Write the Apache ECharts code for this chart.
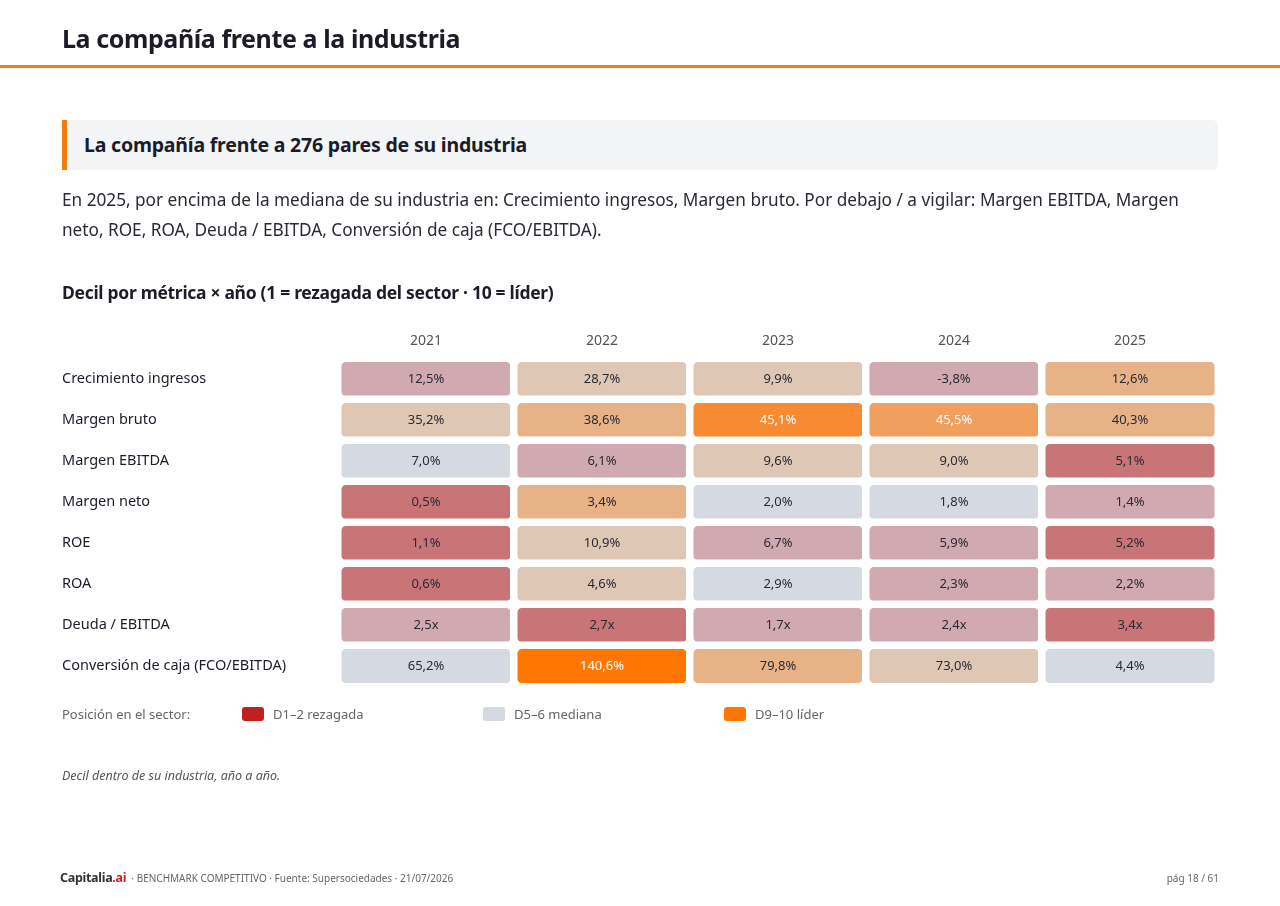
<!DOCTYPE html>
<html>
<head>
<meta charset="utf-8">
<script src="https://cdn.jsdelivr.net/npm/echarts@6/dist/echarts.min.js"></script>
<style>
  body { margin: 0; width: 1280px; height: 906px; background: #fff; font-family: "Noto Sans", sans-serif; color: #1c1c28; position: relative; overflow: hidden; }
  .abs { position: absolute; }
  #chart { position: absolute; left: 0; top: 0; width: 1280px; height: 906px; }
  .sw { display: inline-block; width: 22px; height: 14px; border-radius: 3px; vertical-align: -2px; margin-right: 9px; }
</style>
</head>
<body>
<div id="chart"></div>
<div class="abs" style="left:62px;top:21px;font-size:25px;font-weight:700;letter-spacing:-0.4px;">La compañía frente a la industria</div>
<div class="abs" style="left:0;top:65px;width:1280px;height:3px;background:#f07d12;"></div>
<div class="abs" style="left:62px;top:120px;width:1156px;height:50px;background:#f3f4f6;border-radius:0 6px 6px 0;"></div>
<div class="abs" style="left:62px;top:120px;width:5px;height:50px;background:#f07d12;"></div>
<div class="abs" style="left:84px;top:131px;font-size:19.5px;font-weight:700;letter-spacing:-0.2px;">La compañía frente a 276 pares de su industria</div>
<div class="abs" style="left:62px;top:185px;width:1160px;font-size:17.2px;line-height:30px;color:#2a2a35;">En 2025, por encima de la mediana de su industria en: Crecimiento ingresos, Margen bruto. Por debajo / a vigilar: Margen EBITDA, Margen neto, ROE, ROA, Deuda / EBITDA, Conversión de caja (FCO/EBITDA).</div>
<div class="abs" style="left:62px;top:280px;font-size:17.5px;font-weight:700;letter-spacing:-0.3px;">Decil por métrica × año (1 = rezagada del sector · 10 = líder)</div>
<div class="abs" style="left:62px;top:705px;font-size:13px;color:#666;">Posición en el sector:</div>
<div class="abs" style="left:242px;top:705px;font-size:13px;color:#666;"><span class="sw" style="background:#c21f1f"></span>D1–2 rezagada</div>
<div class="abs" style="left:483px;top:705px;font-size:13px;color:#666;"><span class="sw" style="background:#d5d9e2"></span>D5–6 mediana</div>
<div class="abs" style="left:724px;top:705px;font-size:13px;color:#666;"><span class="sw" style="background:#ff7700"></span>D9–10 líder</div>
<div class="abs" style="left:62px;top:767px;font-size:12.5px;font-style:italic;color:#555;">Decil dentro de su industria, año a año.</div>
<div class="abs" style="left:60px;top:869px;font-size:10px;color:#666;"><span style="font-size:12.5px;font-weight:700;color:#333;letter-spacing:-0.3px;">Capitalia<span style="color:#d0202a">.ai</span></span> &nbsp;· BENCHMARK COMPETITIVO · Fuente: Supersociedades · 21/07/2026</div>
<div class="abs" style="right:61px;top:871px;font-size:10px;color:#666;">pág 18 / 61</div>
<script>
const years = ['2021', '2022', '2023', '2024', '2025'];
const metrics = ['Crecimiento ingresos', 'Margen bruto', 'Margen EBITDA', 'Margen neto', 'ROE', 'ROA', 'Deuda / EBITDA', 'Conversión de caja (FCO/EBITDA)'];
// displayed values per metric (rows) × year (cols)
const labels = [
  ['12,5%', '28,7%', '9,9%', '-3,8%', '12,6%'],
  ['35,2%', '38,6%', '45,1%', '45,5%', '40,3%'],
  ['7,0%', '6,1%', '9,6%', '9,0%', '5,1%'],
  ['0,5%', '3,4%', '2,0%', '1,8%', '1,4%'],
  ['1,1%', '10,9%', '6,7%', '5,9%', '5,2%'],
  ['0,6%', '4,6%', '2,9%', '2,3%', '2,2%'],
  ['2,5x', '2,7x', '1,7x', '2,4x', '3,4x'],
  ['65,2%', '140,6%', '79,8%', '73,0%', '4,4%']
];
// estimated percentile position in the sector
const pct = [
  [30, 68, 68, 30, 78],
  [68, 78, 93, 88, 78],
  [50, 30, 68, 68, 10],
  [10, 78, 50, 50, 30],
  [10, 68, 30, 30, 10],
  [10, 68, 50, 30, 30],
  [30, 10, 30, 30, 10],
  [50, 99, 78, 68, 50]
];

const data = [];
pct.forEach((row, r) => row.forEach((v, c) => {
  const item = { value: [c, r, v, labels[r][c]] };
  if (v >= 85) item.label = { color: '#fff' };
  data.push(item);
}));

const chart = echarts.init(document.getElementById('chart'));
chart.setOption({
  animation: false,
  grid: { left: 338, top: 358.5, width: 880, height: 328 },
  xAxis: {
    type: 'category', data: years, position: 'top',
    axisLine: { show: false }, axisTick: { show: false }, splitLine: { show: false },
    axisLabel: { color: '#555', fontSize: 14, margin: 10, fontFamily: 'Noto Sans' }
  },
  yAxis: {
    type: 'category', data: metrics, inverse: true,
    axisLine: { show: false }, axisTick: { show: false }, splitLine: { show: false },
    axisLabel: { color: '#1c1c28', fontSize: 14.5, align: 'left', margin: 276, fontFamily: 'Noto Sans' }
  },
  visualMap: {
    show: false, type: 'piecewise', dimension: 2,
    pieces: [
      { lt: 20, color: '#c97577' },
      { gte: 20, lt: 40, color: '#d0a9b1' },
      { gte: 40, lt: 60, color: '#d5d9e2' },
      { gte: 60, lt: 75, color: '#dfc7b5' },
      { gte: 75, lt: 85, color: '#e8b287' },
      { gte: 85, lt: 90, color: '#efa05f' },
      { gte: 90, lt: 97, color: '#f68b33' },
      { gte: 97, color: '#ff7700' }
    ]
  },
  series: [{
    type: 'heatmap',
    data: data,
    itemStyle: { borderColor: '#fff', borderWidth: 7.5, borderRadius: 8 },
    label: {
      show: true, fontSize: 13, fontFamily: 'Noto Sans', color: '#2a2a35',
      formatter: p => p.value[3]
    },
    emphasis: { disabled: true }
  }]
});
</script>
</body>
</html>
